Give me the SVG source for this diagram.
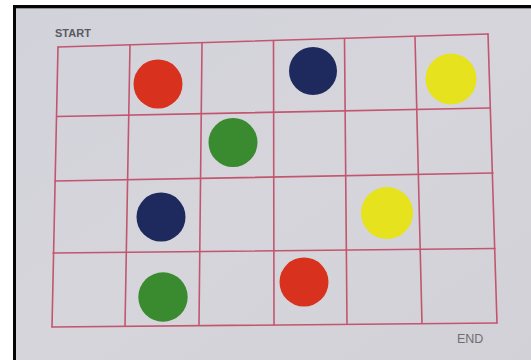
<svg xmlns="http://www.w3.org/2000/svg" width="531" height="360" viewBox="0 0 531 360">
<defs>
<linearGradient id="paper" x1="0" y1="0" x2="1" y2="1">
<stop offset="0" stop-color="#d2d2da"/>
<stop offset="0.5" stop-color="#d6d5dc"/>
<stop offset="1" stop-color="#d3d1d8"/>
</linearGradient>
</defs>
<style>
.g{stroke:#c2566f;stroke-width:1.6;fill:none;stroke-linecap:round}
.lbl{font-family:"Liberation Sans",Arial,sans-serif}
.red{fill:#d8321f}
.navy{fill:#1e2a5e}
.yel{fill:#e6e21e}
.grn{fill:#3a8a2f}
</style>
<rect width="531" height="360" fill="#ffffff"/>
<rect x="13" y="5" width="518" height="355" fill="url(#paper)"/>
<rect x="13" y="5" width="518" height="3.3" fill="#050505"/>
<rect x="13" y="5" width="3" height="355" fill="#050505"/>
<g id="grid">
<line class="g" x1="58" y1="47" x2="488" y2="34"/>
<line class="g" x1="57" y1="116.5" x2="490" y2="108"/>
<line class="g" x1="55" y1="181" x2="493" y2="173"/>
<line class="g" x1="53" y1="253" x2="495" y2="248.5"/>
<line class="g" x1="52" y1="327" x2="497" y2="323"/>
<line class="g" x1="58" y1="47" x2="52" y2="327"/>
<line class="g" x1="130" y1="45" x2="125" y2="326"/>
<line class="g" x1="202" y1="43" x2="199" y2="325"/>
<line class="g" x1="273.5" y1="41" x2="274" y2="325"/>
<line class="g" x1="344.5" y1="39" x2="347" y2="324"/>
<line class="g" x1="415" y1="37" x2="422" y2="323.5"/>
<line class="g" x1="488" y1="34" x2="497" y2="323"/>
</g>
<g id="dot-red-1"><circle class="red" cx="158" cy="84" r="24.5"/></g>
<g id="dot-navy-1"><circle class="navy" cx="313" cy="71" r="24"/></g>
<g id="dot-yellow-1"><circle class="yel" cx="451" cy="79" r="25.5"/></g>
<g id="dot-green-1"><circle class="grn" cx="233" cy="142.5" r="24.5"/></g>
<g id="dot-navy-2"><circle class="navy" cx="161" cy="217" r="24.5"/></g>
<g id="dot-yellow-2"><circle class="yel" cx="387" cy="213" r="26"/></g>
<g id="dot-green-2"><circle class="grn" cx="163" cy="297" r="24.7"/></g>
<g id="dot-red-2"><circle class="red" cx="304" cy="282" r="24.5"/></g>
<g id="labels">
<text class="lbl" x="55" y="36.5" font-size="11" font-weight="bold" fill="#5a5a60">START</text>
<text class="lbl" x="457" y="342.5" font-size="12.5" fill="#6e7070">END</text>
</g>
</svg>
